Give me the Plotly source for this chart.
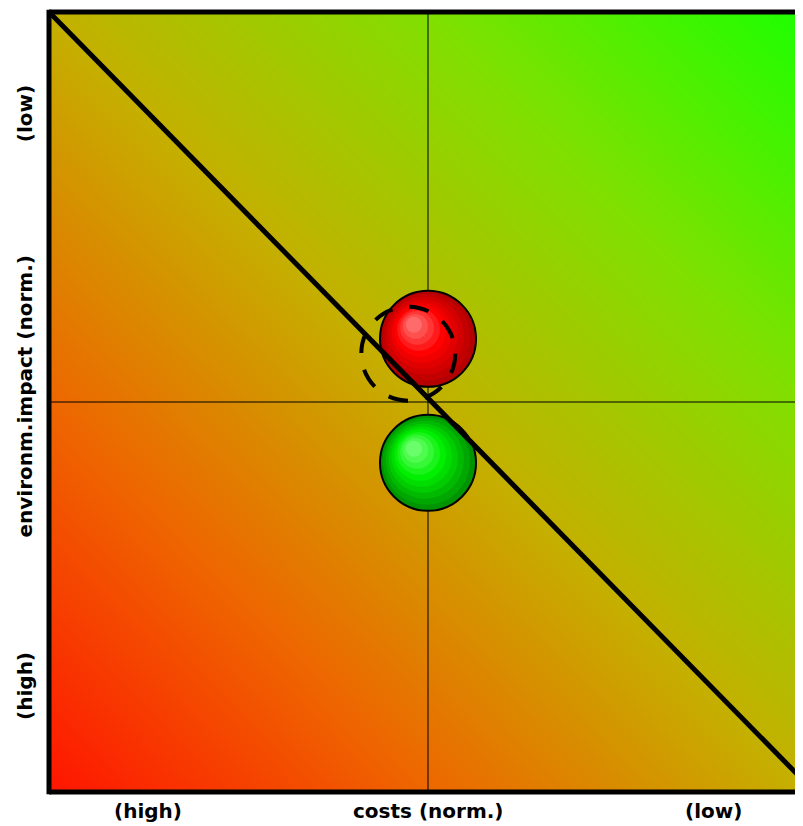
import numpy as np
import plotly.graph_objects as go

# ---------------- data ----------------
axis_x_labels = ["(high)", "costs (norm.)", "(low)"]
axis_x_label_pos = [0.131, 0.5, 0.877]
axis_y_labels = ["(high)", "environm.impact (norm.)", "(low)"]
axis_y_label_pos = [0.136, 0.507, 0.869]

bubble_names = ["current", "improved"]
bubble_x = [0.50, 0.50]
bubble_y = [0.581, 0.422]
bubble_dark = ["#B40000", "#009400"]
bubble_mid = ["#FF0000", "#00F000"]
bubble_light = ["#FF6A6A", "#6AFF6A"]

prev_x = 0.474
prev_y = 0.562

center_x = 0.5
center_y = 0.5

diag_x = [0.0, 1.01]
diag_y = [1.0, 0.0]

gradient_colors = [
    [0.00, "#FF1500"],
    [0.25, "#EE6600"],
    [0.50, "#C4B000"],
    [0.75, "#80E000"],
    [1.00, "#1CFF00"],
]

# ---------------- layout constants ----------------
OFF = 8  # page body margin
W, H = 803 - OFF, 826 - OFF
ML, MT = 49 - OFF, 12 - OFF
MB = H - MT - 780
PX_X = 758.0  # pixels per x unit
PX_Y = 780.0  # pixels per y unit
BUBBLE_D = 96

fig = go.Figure()

# background gradient (heatmap, smooth)
n = 60
gx = np.linspace(0, 1.02, n + 1)
gy = np.linspace(0, 1.0, n + 1)
cx = (gx[:-1] + gx[1:]) / 2
cy = (gy[:-1] + gy[1:]) / 2
zz = (cx[None, :] + cy[:, None]) / 2.0
fig.add_trace(go.Heatmap(x=cx, y=cy, z=zz, zmin=0, zmax=1.0,
                         colorscale=gradient_colors, showscale=False,
                         zsmooth="best", hoverinfo="skip"))

# crosshair
fig.add_trace(go.Scatter(x=[center_x, center_x], y=[0, 1], mode="lines",
                         line=dict(color="black", width=1), hoverinfo="skip",
                         showlegend=False))
fig.add_trace(go.Scatter(x=[0, 1.02], y=[center_y, center_y], mode="lines",
                         line=dict(color="black", width=1), hoverinfo="skip",
                         showlegend=False))


def hx(c):
    return [int(c[i:i + 2], 16) for i in (1, 3, 5)]


def mix3(c1, c2, c3, t, tm=0.55):
    if t <= tm:
        a, b, u = hx(c1), hx(c2), t / tm
    else:
        a, b, u = hx(c2), hx(c3), (t - tm) / (1 - tm)
    return "rgb(%d,%d,%d)" % tuple(round(a[k] + (b[k] - a[k]) * u) for k in range(3))


# shaded spheres
layers = 10
for bx, by, dk, md, lt, nm in zip(bubble_x, bubble_y, bubble_dark, bubble_mid,
                                  bubble_light, bubble_names):
    xs, ys, ss, cs, lw = [], [], [], [], []
    for k in range(layers):
        t = k / (layers - 1)
        xs.append(bx - 14 * t / PX_X)
        ys.append(by + 14 * t / PX_Y)
        ss.append(BUBBLE_D * (1 - t) + 16 * t)
        cs.append(mix3(dk, md, lt, t))
        lw.append(2 if k == 0 else 0)
    fig.add_trace(go.Scatter(x=xs, y=ys, mode="markers", name=nm,
                             marker=dict(size=ss, color=cs, opacity=1,
                                         line=dict(color="black", width=lw)),
                             hoverinfo="skip", showlegend=False))

# diagonal trade-off line
fig.add_trace(go.Scatter(x=diag_x, y=diag_y, mode="lines",
                         line=dict(color="black", width=5), hoverinfo="skip",
                         showlegend=False))

shapes = []
# previous position (dashed circle)
shapes.append(dict(type="circle", xref="x", yref="y", xsizemode="pixel",
                   ysizemode="pixel", xanchor=prev_x, yanchor=prev_y,
                   x0=-47, x1=47, y0=-47, y1=47, layer="above",
                   line=dict(color="black", width=4, dash="20px,17px")))
# frame
frame = dict(color="black", width=5)
shapes.append(dict(type="line", xref="paper", yref="paper", x0=0, x1=1, y0=1, y1=1, line=frame, layer="above"))
shapes.append(dict(type="line", xref="paper", yref="paper", x0=0, x1=1, y0=0, y1=0, line=frame, layer="above"))
shapes.append(dict(type="line", xref="paper", yref="paper", x0=0, x1=0, y0=-0.003, y1=1.003, line=frame, layer="above"))

annotations = []
font = dict(family="DejaVu Sans", size=20, color="black")
for txt, xp in zip(axis_x_labels, axis_x_label_pos):
    annotations.append(dict(x=xp, y=0, xref="x", yref="paper", yshift=-19,
                            text="<b>%s</b>" % txt,
                            showarrow=False, font=font, xanchor="center", yanchor="middle"))
for txt, yp in zip(axis_y_labels, axis_y_label_pos):
    annotations.append(dict(x=0, y=yp, xref="paper", yref="y", xshift=-24,
                            text="<b>%s</b>" % txt,
                            showarrow=False, font=font, textangle=-90,
                            xanchor="center", yanchor="middle"))

fig.update_layout(
    width=W, height=H,
    margin=dict(l=ML, r=0, t=MT, b=MB, pad=0),
    paper_bgcolor="white", plot_bgcolor="white",
    xaxis=dict(range=[0, (W - ML) / PX_X], showgrid=False, zeroline=False,
               showticklabels=False, ticks="", showline=False, fixedrange=True),
    yaxis=dict(range=[0, 1], showgrid=False, zeroline=False,
               showticklabels=False, ticks="", showline=False, fixedrange=True),
    shapes=shapes, annotations=annotations, showlegend=False,
)

fig.write_html("out.html")
